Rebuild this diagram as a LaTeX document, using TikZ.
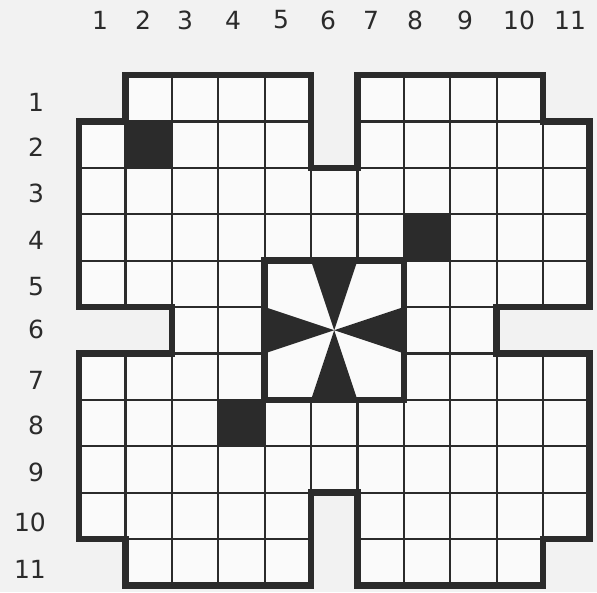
\documentclass[tikz,border=0pt]{standalone}
\usepackage{fontspec}
\newfontfamily\labelfont{DejaVu Sans}
\definecolor{paper}{HTML}{F2F2F2}
\definecolor{ink}{HTML}{2B2B2B}
\begin{document}
\begin{tikzpicture}[x=1pt,y=-1pt,
  lbl/.style={font=\labelfont\fontsize{25}{29}\selectfont, text=ink, inner sep=0pt},
  thinline/.style={draw=ink, line width=2.2pt},
  thickline/.style={draw=ink, line width=6.5pt, line join=miter},
  blackcell/.style={fill=ink}]
\fill[paper] (0,0) rectangle (597,592);
\useasboundingbox (0,0) rectangle (597,592);
% column labels
\node[lbl] (c1) at (100,20) {1};
\node[lbl] (c2) at (143,20) {2};
\node[lbl] (c3) at (185,20) {3};
\node[lbl] (c4) at (233,20) {4};
\node[lbl] (c5) at (281,20) {5};
\node[lbl] (c6) at (328,20) {6};
\node[lbl] (c7) at (371,20) {7};
\node[lbl] (c8) at (415,20) {8};
\node[lbl] (c9) at (465,20) {9};
\node[lbl] (c10) at (519,20) {10};
\node[lbl] (c11) at (570,20) {11};
% row labels
\node[lbl] (r1) at (36,102) {1};
\node[lbl] (r2) at (36,147) {2};
\node[lbl] (r3) at (36,193) {3};
\node[lbl] (r4) at (36,240) {4};
\node[lbl] (r5) at (36,287) {5};
\node[lbl] (r6) at (36,329) {6};
\node[lbl] (r7) at (36,380) {7};
\node[lbl] (r8) at (36,425) {8};
\node[lbl] (r9) at (36,472) {9};
\node[lbl] (r10) at (30,522) {10};
\node[lbl] (r11) at (30,569) {11};
\begin{scope}[xshift=79pt, yshift=-75pt, x=46.4pt, y=-46.4pt]
  \def\outline{(1,0) -- (5,0) -- (5,2) -- (6,2) -- (6,0) -- (10,0) -- (10,1) -- (11,1) -- (11,5) -- (9,5) -- (9,6) -- (11,6) -- (11,10) -- (10,10) -- (10,11) -- (6,11) -- (6,9) -- (5,9) -- (5,11) -- (1,11) -- (1,10) -- (0,10) -- (0,6) -- (2,6) -- (2,5) -- (0,5) -- (0,1) -- (1,1) -- cycle}
  \begin{scope}
    \clip \outline;
    \fill[white!60!paper] (0,0) rectangle (11,11);
    \foreach \i in {0,...,11} {
      \draw[thinline] (\i,0) -- (\i,11);
      \draw[thinline] (0,\i) -- (11,\i);
    }
  \end{scope}
  % centre block
  \fill[white!60!paper] (4,4) rectangle (7,7);
  \fill[ink] (5,4) -- (6,4) -- (5.5,5.5) -- cycle;
  \fill[ink] (5,7) -- (6,7) -- (5.5,5.5) -- cycle;
  \fill[ink] (4,5) -- (4,6) -- (5.5,5.5) -- cycle;
  \fill[ink] (7,5) -- (7,6) -- (5.5,5.5) -- cycle;
  % black cells
  \fill[blackcell] (1,1) rectangle (2,2);
  \fill[blackcell] (7,3) rectangle (8,4);
  \fill[blackcell] (3,7) rectangle (4,8);
  % thick borders
  \draw[thickline] \outline;
  \draw[thickline] (4,4) rectangle (7,7);
\end{scope}
\end{tikzpicture}
\end{document}
